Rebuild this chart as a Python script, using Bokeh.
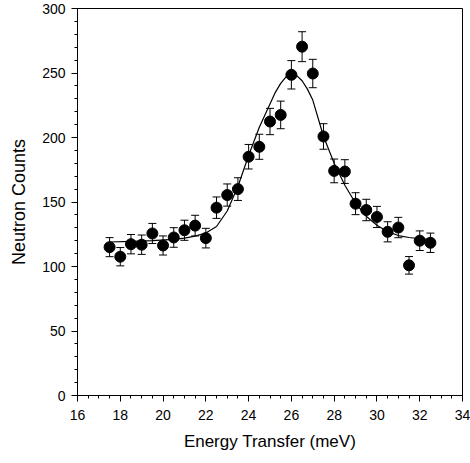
from bokeh.plotting import figure
from bokeh.models import ColumnDataSource, Whisker, SingleIntervalTicker, Range1d, TeeHead
from bokeh.embed import file_html
from bokeh.resources import INLINE

# measured points
energy = [17.5, 18.0, 18.5, 19.0, 19.5, 20.0, 20.5, 21.0, 21.5, 22.0, 22.5, 23.0, 23.5, 24.0,
          24.5, 25.0, 25.5, 26.0, 26.5, 27.0, 27.5, 28.0, 28.5, 29.0, 29.5, 30.0, 30.5, 31.0,
          31.5, 32.0, 32.5]
counts = [115.0, 107.6, 117.3, 116.9, 125.6, 116.3, 122.5, 128.1, 131.7, 122.0, 145.6, 155.4,
          160.0, 185.1, 192.8, 212.4, 217.5, 248.6, 270.4, 249.6, 200.8, 174.1, 173.6, 148.7,
          143.8, 138.4, 126.9, 130.2, 100.9, 120.0, 118.4]
errors = [7.4, 7.1, 7.5, 7.5, 7.8, 7.4, 7.6, 7.8, 8.0, 7.6, 8.3, 8.6, 8.8, 9.5, 9.7, 10.2,
          10.7, 11.0, 11.6, 11.0, 9.9, 9.2, 9.2, 8.5, 8.3, 8.2, 7.8, 7.9, 6.8, 7.6, 7.5]

# fitted curve
fit_x = [17.5, 18.5, 19.5, 20.5, 21.0, 21.5, 22.0, 22.5, 23.0, 23.5, 24.0, 24.5, 25.0, 25.25,
         25.5, 25.75, 26.0, 26.25, 26.5, 26.75, 27.0, 27.5, 28.0, 28.5, 29.0, 29.5, 30.0, 30.5,
         31.0, 31.5, 32.0, 32.5]
fit_y = [119, 119.5, 120, 121, 122, 123.5, 126, 131, 143, 162, 186, 208, 226, 235, 242, 247,
         249, 248, 244, 237.5, 229, 201, 180, 163, 149, 139, 132, 127, 124, 122.5, 121.5, 121]

lower = [c - e for c, e in zip(counts, errors)]
upper = [c + e for c, e in zip(counts, errors)]
src = ColumnDataSource(dict(x=energy, y=counts, lower=lower, upper=upper))

p = figure(width=470, height=463, output_backend="svg", toolbar_location=None,
           x_range=Range1d(16, 34), y_range=Range1d(0, 300),
           min_border_left=77, min_border_right=8, min_border_top=8, min_border_bottom=68)
p.background_fill_color = "white"
p.border_fill_color = "white"
p.outline_line_color = "black"
p.outline_line_width = 1
p.xgrid.visible = False
p.ygrid.visible = False

p.line(fit_x, fit_y, line_color="black", line_width=1.2)

w = Whisker(source=src, base="x", lower="lower", upper="upper", line_color="black", line_width=1,
            upper_head=TeeHead(size=8, line_color="black", line_width=1),
            lower_head=TeeHead(size=8, line_color="black", line_width=1))
p.add_layout(w)
p.scatter("x", "y", source=src, size=11, fill_color="black", line_color="black")

p.xaxis.ticker = SingleIntervalTicker(interval=2, num_minor_ticks=4)
p.yaxis.ticker = SingleIntervalTicker(interval=50, num_minor_ticks=5)
for ax in (p.xaxis[0], p.yaxis[0]):
    ax.major_tick_out = 6
    ax.major_tick_in = 0
    ax.minor_tick_out = 3
    ax.minor_tick_in = 0
    ax.axis_line_color = "black"
    ax.major_tick_line_color = "black"
    ax.minor_tick_line_color = "black"
    ax.major_label_text_font = "Liberation Sans"
    ax.major_label_text_font_size = "14px"
    ax.major_label_text_color = "black"
    ax.axis_label_text_font = "Liberation Sans"
    ax.axis_label_text_font_style = "normal"
    ax.axis_label_text_color = "black"

p.xaxis.axis_label = "Energy Transfer (meV)"
p.yaxis.axis_label = "Neutron Counts"
p.xaxis.axis_label_text_font_size = "17px"
p.yaxis.axis_label_text_font_size = "18px"
p.xaxis.major_label_standoff = 8
p.xaxis.axis_label_standoff = 9
p.yaxis.major_label_standoff = 6
p.yaxis.axis_label_standoff = 10

open("out.html", "w").write(file_html(p, INLINE))
